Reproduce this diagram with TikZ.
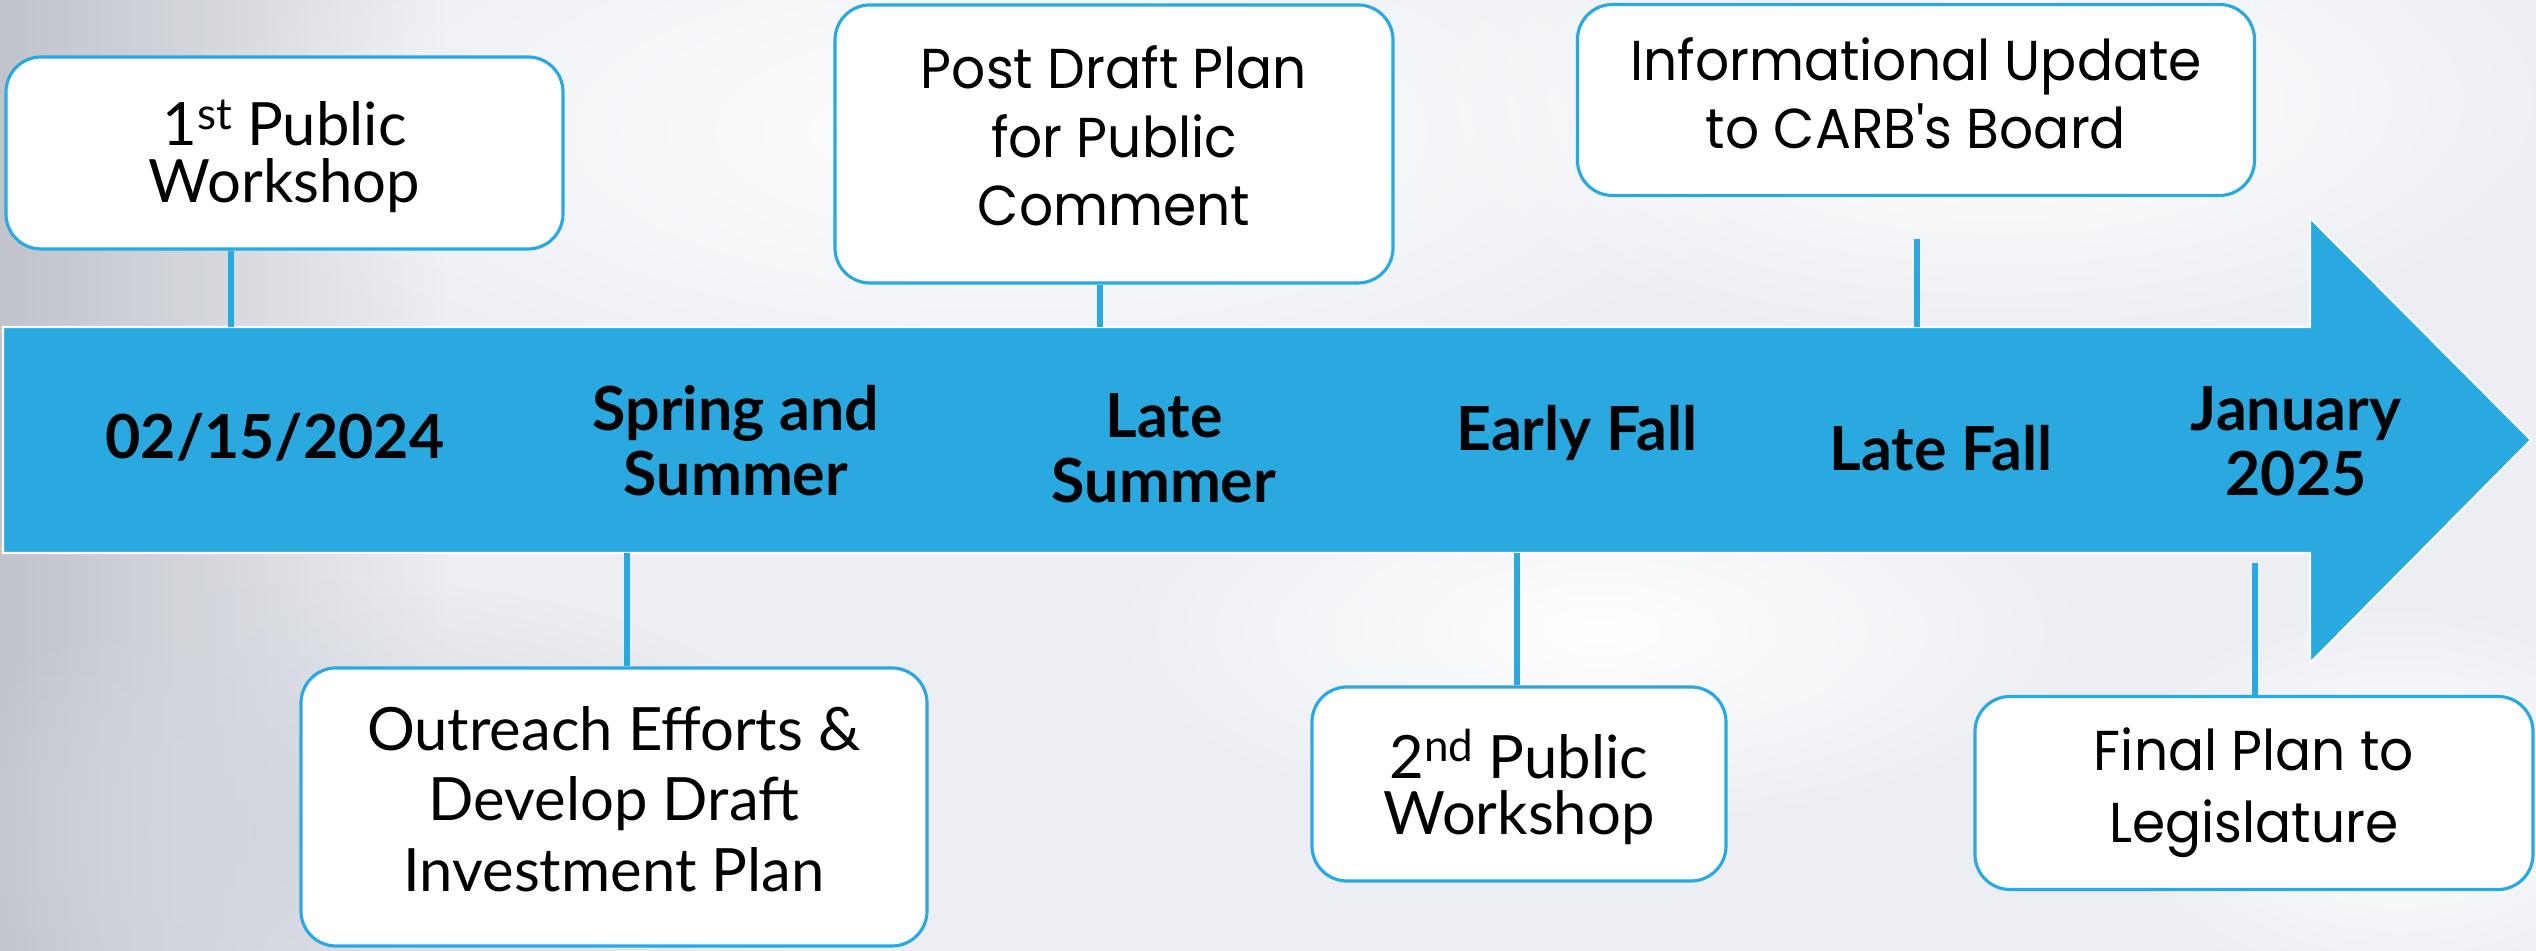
\documentclass[tikz,border=0pt]{standalone}
\usepackage{fontspec}
\setmainfont{Lato}
\newfontfamily\widefont[FakeStretch=0.95]{Poppins}
\usetikzlibrary{fadings}
\tikzfading[name=softblob, inner color=transparent!0, outer color=transparent!100]
\definecolor{barblue}{HTML}{29A9E0}
\definecolor{bgbase}{HTML}{ECEEF3}
\definecolor{bgdark}{HTML}{C0C3CA}
\definecolor{bgmid}{HTML}{D3D6DF}
\newcommand{\supx}[1]{\raisebox{0.55ex}{\fontsize{12.5}{12.5}\selectfont #1}}
\begin{document}
\begin{tikzpicture}[
  box/.style={draw=barblue, line width=0.9pt, fill=white, rounded corners=0.35cm},
  conn/.style={draw=barblue, line width=0.065cm},
  lbl/.style={font=\fontsize{17.3}{18.5}\selectfont\bfseries, align=center, text=black},
  ntxt/.style={font=\fontsize{17}{20}\selectfont, align=center},
  ntight/.style={font=\fontsize{17}{16}\selectfont, align=center},
  wtxt/.style={font=\widefont\fontsize{16}{19.5}\selectfont, align=center},
]
\useasboundingbox (0,0) rectangle (25.36,9.51);
% background
\fill[bgbase] (0,0) rectangle (25.36,9.51);
\shade[left color=bgdark, right color=bgbase] (0,0) rectangle (4.5,9.51);
\fill[bgmid, path fading=softblob] (3.5,1.2) ellipse (5 and 2.5);
\fill[white, path fading=softblob] (10,8.2) ellipse (8 and 3);
\fill[white, path fading=softblob] (20,8.5) ellipse (6 and 2.5);
\fill[white, path fading=softblob] (16,3.2) ellipse (5 and 2);
\fill[white, path fading=softblob] (24,1.5) ellipse (3 and 2);
% timeline arrow
\fill[barblue, draw=white, line width=0.6pt]
  (0.03,6.24) -- (23.10,6.24) -- (23.10,7.33) -- (25.31,5.11) -- (23.10,2.88)
  -- (23.10,3.98) -- (0.03,3.98) -- cycle;
% boxes
\node[box, minimum width=5.57cm, minimum height=1.92cm] (b1) at (2.845,7.98) {};
\node[box, minimum width=6.26cm, minimum height=2.78cm] (b2) at (6.14,1.44) {};
\node[box, minimum width=5.58cm, minimum height=2.78cm] (b3) at (11.14,8.07) {};
\node[box, minimum width=4.14cm, minimum height=1.94cm] (b4) at (15.19,1.67) {};
\node[box, minimum width=6.77cm, minimum height=1.91cm] (b5) at (19.16,8.51) {};
\node[box, minimum width=5.58cm, minimum height=1.93cm] (b6) at (22.54,1.58) {};
% box texts
\node[ntight] (t1) at ([yshift=-0.03cm]b1.center) {1\supx{st} Public\\Workshop};
\node[ntxt] (t2) at ([yshift=0.08cm]b2.center) {Outreach Efforts \&\\Develop Draft\\Investment Plan};
\node[wtxt] (t3) at ([yshift=0.08cm]b3.center) {Post Draft Plan\\for Public\\Comment};
\node[ntight] (t4) at ([yshift=-0.03cm]b4.center) {2\supx{nd} Public\\Workshop};
\node[wtxt] (t5) at ([yshift=0.065cm]b5.center) {Informational Update\\to CARB's Board};
\node[wtxt, font=\widefont\fontsize{16}{20.5}\selectfont] (t6) at (b6.center) {Final Plan to\\Legislature};
% bar labels
\node[lbl] (l1) at (2.75,5.14) {02/15/2024};
\node[lbl] (l2) at (7.36,5.10) {Spring and\\Summer};
\node[lbl] (l3) at (11.64,5.03) {Late\\Summer};
\node[lbl] (l4) at (15.77,5.18) {Early Fall};
\node[lbl] (l5) at (19.41,5.03) {Late Fall};
\node[lbl] (l6) at (22.96,5.10) {January\\2025};
% connectors
\coordinate (c1) at (2.31,6.24);
\coordinate (c2) at (6.27,3.98);
\coordinate (c3) at (11.00,6.24);
\coordinate (c4) at (15.17,3.98);
\coordinate (c5a) at (19.17,7.12);
\coordinate (c5) at (19.17,6.24);
\coordinate (c6a) at (22.55,3.88);
\draw[conn] (c1 |- b1.south) -- (c1);
\draw[conn] (c2) -- (c2 |- b2.north);
\draw[conn] (c3 |- b3.south) -- (c3);
\draw[conn] (c4) -- (c4 |- b4.north);
\draw[conn] (c5a) -- (c5);
\draw[conn] (c6a) -- (c6a |- b6.north);
\end{tikzpicture}
\end{document}
